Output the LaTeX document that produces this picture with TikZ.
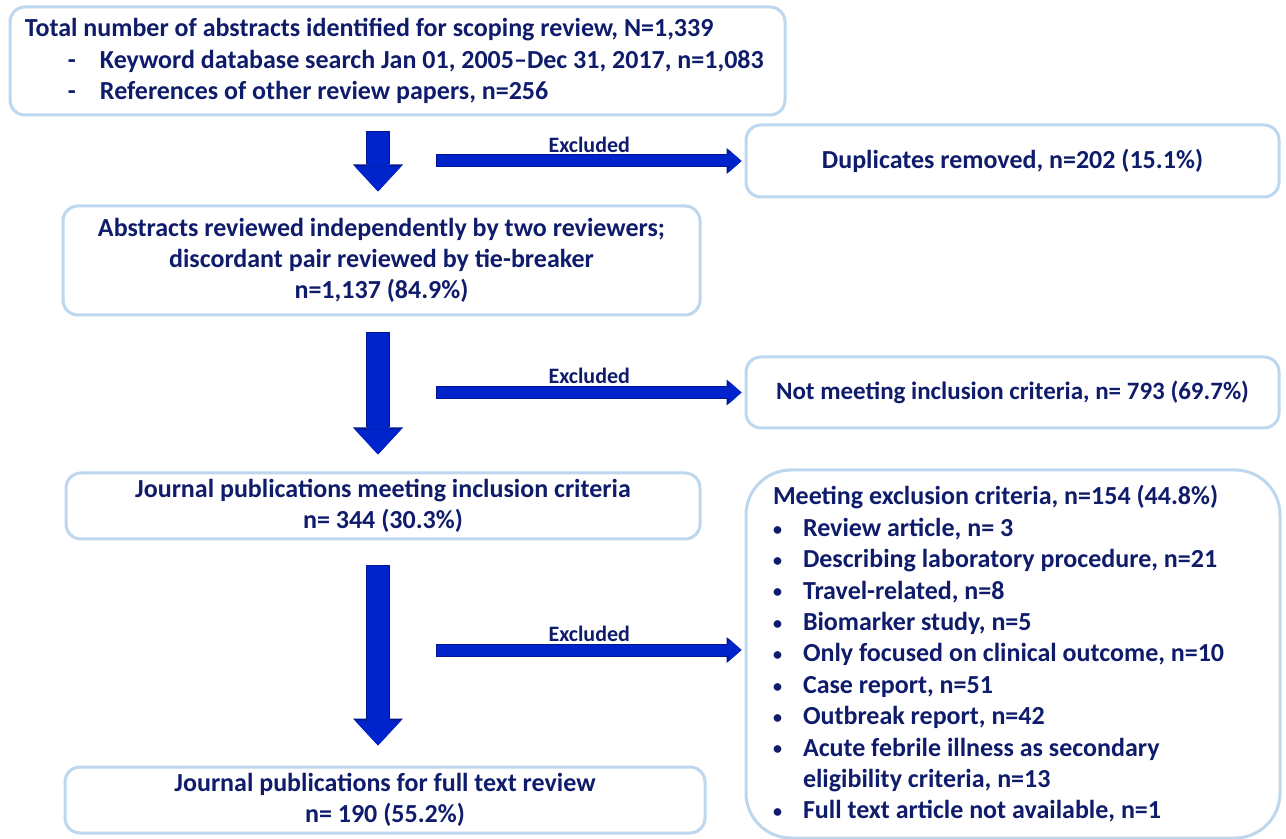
\documentclass[tikz,border=0pt]{standalone}
\usepackage{fontspec}
\setmainfont{Carlito}
\usetikzlibrary{arrows.meta,positioning,calc}
\definecolor{Navy}{HTML}{0F1C6B}
\definecolor{Flow}{HTML}{0024CC}
\definecolor{FlowEdge}{HTML}{00178F}
\definecolor{Frame}{HTML}{BDD7EE}
\tikzset{box/.style={draw=Frame,line width=1.5pt,rounded corners=7.5pt,align=center,text=Navy,font=\bfseries\fontsize{13}{15.6}\selectfont,inner sep=0pt},
downflow/.style={draw=Flow,line width=11pt,-{Triangle[width=23pt,length=12.5pt,line width=0pt]},preaction={draw=FlowEdge,line width=12pt,-{Triangle[width=25pt,length=13.5pt,line width=0pt]},shorten <=-0.5pt}},
sideflow/.style={draw=Flow,line width=5.5pt,-{Triangle[width=11.5pt,length=6.5pt,line width=0pt]},preaction={draw=FlowEdge,line width=6.5pt,-{Triangle[width=13pt,length=7.5pt,line width=0pt]},shorten <=-0.5pt}},
lab/.style={font=\bfseries\fontsize{11}{13}\selectfont,text=Navy,inner sep=0pt,above=1.5pt}}
\newcommand{\dash}{\hspace*{21.5pt}\makebox[16pt][l]{-}}
\newcommand{\bul}{\makebox[15pt][l]{\raisebox{0.6pt}{\fontsize{9}{9}\selectfont\textbullet}}}
\begin{document}
\begin{tikzpicture}[x=0.5pt,y=-0.5pt]
\useasboundingbox[fill=white] (0,0) rectangle (1286,839);
% boxes
\node[box,minimum width=387.5pt,minimum height=54pt,align=left] (top) at (397.5,61) {\makebox[372.5pt][l]{Total number of abstracts identified for scoping review, N=1,339}\\
\dash Keyword database search Jan 01, 2005--Dec 31, 2017, n=1,083\\
\dash References of other review papers, n=256};
\node[box,minimum width=266.5pt,minimum height=36pt] (dup) at (1012.5,161) {Duplicates removed, n=202 (15.1\%)};
\node[box,minimum width=318.5pt,minimum height=54.5pt] (rev) at (381.5,260.5) {Abstracts reviewed independently by two reviewers;\\ discordant pair reviewed by tie-breaker\\ n=1,137 (84.9\%)};
\node[box,font=\bfseries\fontsize{12.5}{15.6}\selectfont,minimum width=266.5pt,minimum height=35.5pt] (notmeet) at (1012.5,392.5) {Not meeting inclusion criteria, n= 793 (69.7\%)};
\node[box,minimum width=317pt,minimum height=33pt] (incl) at (383,506) {Journal publications meeting inclusion criteria\\ n= 344 (30.3\%)};
\node[box,font=\bfseries\fontsize{13}{15.7}\selectfont,rounded corners=22.5pt,minimum width=267pt,minimum height=184pt,align=left] (excl) at (1013,654) {\makebox[240pt][l]{Meeting exclusion criteria, n=154 (44.8\%)}\\
\bul Review article, n= 3\\
\bul Describing laboratory procedure, n=21\\
\bul Travel-related, n=8\\
\bul Biomarker study, n=5\\
\bul Only focused on clinical outcome, n=10\\
\bul Case report, n=51\\
\bul Outbreak report, n=42\\
\bul Acute febrile illness as secondary\\
\hspace*{15pt}eligibility criteria, n=13\\
\bul Full text article not available, n=1};
\node[box,minimum width=320pt,minimum height=33pt] (full) at (385,800) {Journal publications for full text review\\ n= 190 (55.2\%)};
% arrows
\coordinate (axis) at (378,0);
\coordinate (split) at (437,0);
\draw[downflow] ($(axis |- top.south)+(0,16)$) -- ($(axis |- rev.north)+(0,-13)$);
\draw[downflow] ($(axis |- rev.south)+(0,17)$) -- ($(axis |- incl.north)+(0,-17)$);
\draw[downflow] ($(axis |- incl.south)+(0,26)$) -- ($(axis |- full.north)+(0,-20)$);
\draw[sideflow] (split |- dup.west) -- node[lab] {Excluded} ($(dup.west)+(-3,0)$);
\draw[sideflow] (split |- notmeet.west) -- node[lab] {Excluded} ($(notmeet.west)+(-3,0)$);
\draw[sideflow] ($(split |- excl.west)+(0,-4)$) -- node[lab] {Excluded} ($(excl.west)+(-3,-4)$);
\end{tikzpicture}
\end{document}
